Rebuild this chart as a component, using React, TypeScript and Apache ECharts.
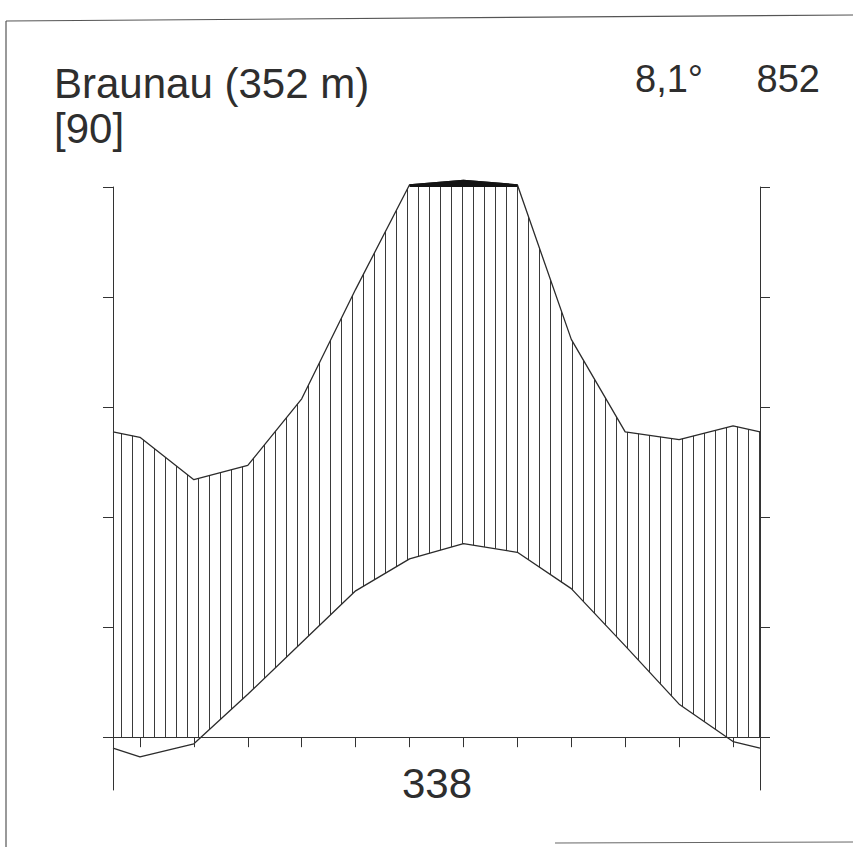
import React, { useEffect, useRef } from 'react';
import * as echarts from 'echarts';

// Month positions (1 = January ... 12 = December)
const monthPositions = [1, 2, 3, 4, 5, 6, 7, 8, 9, 10, 11, 12];
// Mean monthly temperature (°C)
const temperature = [-1.8, -0.6, 3.9, 8.6, 13.3, 16.2, 17.6, 16.8, 13.5, 8.3, 3.0, -0.4];
// Mean monthly precipitation (mm)
const precipitation = [54.5, 46.8, 49.4, 61.5, 81.4, 104, 112, 104, 72.3, 55.5, 54.1, 56.6];
// Values read at the diagram edges (mid-December / mid-January junction)
const edgeTemperature = -1.0;
const edgePrecipitation = 55.5;
// Axis tick values
const temperatureTicks = [0, 10, 20, 30, 40, 50];
const precipitationTicks = [0, 20, 40, 60, 80, 100];

const stationTitle = 'Braunau (352 m)';
const yearsLabel = '[90]';
const meanTemperatureLabel = '8,1°';
const annualPrecipitationLabel = '852';
const bottomLabel = '338';

const FONT = '"Liberation Sans", Arial, Helvetica, sans-serif';
const INK = '#2e2e2e';

// precipitation above 100 mm is drawn at 1/10 scale (Walter-Lieth convention)
const compress = (p: number) => (p <= 100 ? p : 100 + (p - 100) / 10);

export default function App() {
  const ref = useRef<HTMLDivElement>(null);

  useEffect(() => {
    if (!ref.current) return;
    const chart = echarts.init(ref.current, undefined, { renderer: 'svg' });

    const tempData: number[][] = [[0.5, edgeTemperature]];
    monthPositions.forEach((m, i) => tempData.push([m, temperature[i]]));
    tempData.push([12.5, edgeTemperature]);

    const precData: number[][] = [[0.5, compress(edgePrecipitation)]];
    monthPositions.forEach((m, i) => precData.push([m, compress(precipitation[i])]));
    precData.push([12.5, compress(edgePrecipitation)]);

    // only the months above 100 mm get the black (compressed) band
    const excessData = precData.map(([x, v]) => [x, v > 100 ? v : '-']);

    const hatchSvg =
      '<svg xmlns="http://www.w3.org/2000/svg" width="11" height="10">' +
      '<rect x="0" y="0" width="1" height="10" fill="#3a3a3a"/></svg>';
    const hatchPattern: any = {
      image: 'data:image/svg+xml;charset=utf-8,' + encodeURIComponent(hatchSvg),
      repeat: 'repeat',
      imageWidth: 11,
      imageHeight: 10,
      x: 3,
    };

    const axisLine = { show: true, lineStyle: { color: '#333', width: 1 } };

    chart.setOption({
      animation: false,
      backgroundColor: '#fff',
      grid: { left: 113, top: 187, width: 647, height: 603, containLabel: false },
      xAxis: {
        type: 'value',
        min: 0.5,
        max: 12.5,
        z: 10,
        axisLine: { ...axisLine, onZero: true, onZeroAxisIndex: 0 },
        axisTick: { show: true, length: 10, customValues: monthPositions, lineStyle: { color: '#333' } },
        axisLabel: { show: false },
        splitLine: { show: false },
      },
      yAxis: [
        {
          type: 'value',
          position: 'left',
          min: -4.8,
          max: 50,
          z: 10,
          axisLine: { ...axisLine, onZero: false },
          axisTick: { show: true, length: 10, customValues: temperatureTicks, lineStyle: { color: '#333' } },
          axisLabel: { show: false },
          splitLine: { show: false },
        },
        {
          type: 'value',
          position: 'right',
          min: -9.6,
          max: 100,
          z: 10,
          axisLine: { ...axisLine, onZero: false },
          axisTick: { show: true, length: 10, customValues: precipitationTicks, lineStyle: { color: '#333' } },
          axisLabel: { show: false },
          splitLine: { show: false },
        },
      ],
      series: [
        {
          name: 'Niederschlag',
          type: 'line',
          yAxisIndex: 1,
          data: precData,
          showSymbol: false,
          clip: false,
          z: 2,
          lineStyle: { color: '#2b2b2b', width: 1.3 },
          areaStyle: { color: hatchPattern, opacity: 1 },
        },
        {
          name: 'Niederschlag > 100',
          type: 'line',
          yAxisIndex: 1,
          data: excessData,
          showSymbol: false,
          clip: false,
          connectNulls: false,
          z: 3,
          lineStyle: { color: '#141414', width: 1.2 },
          areaStyle: { color: '#141414', origin: 'end', opacity: 1 },
        },
        {
          name: 'Temperatur',
          type: 'line',
          yAxisIndex: 0,
          data: tempData,
          showSymbol: false,
          clip: false,
          z: 4,
          lineStyle: { color: '#2b2b2b', width: 1.3 },
          areaStyle: { color: '#ffffff', opacity: 1 },
        },
      ],
      graphic: [
        { type: 'line', shape: { x1: 6, y1: 21, x2: 853, y2: 15 }, style: { stroke: '#555', lineWidth: 1.2 } },
        { type: 'line', shape: { x1: 6, y1: 21, x2: 6, y2: 847 }, style: { stroke: '#555', lineWidth: 1.2 } },
        { type: 'line', shape: { x1: 555, y1: 843, x2: 853, y2: 842 }, style: { stroke: '#666', lineWidth: 1 } },
        {
          type: 'text',
          left: 54,
          top: 62,
          style: { text: stationTitle, font: `42px ${FONT}`, fill: INK },
        },
        {
          type: 'text',
          left: 54,
          top: 107,
          style: { text: yearsLabel, font: `42px ${FONT}`, fill: INK },
        },
        {
          type: 'text',
          left: 635,
          top: 60,
          style: { text: meanTemperatureLabel, font: `38px ${FONT}`, fill: INK },
        },
        {
          type: 'text',
          right: 33,
          top: 60,
          style: { text: annualPrecipitationLabel, font: `38px ${FONT}`, fill: INK },
        },
        {
          type: 'text',
          x: 437,
          y: 762,
          style: { text: bottomLabel, font: `42px ${FONT}`, fill: INK, textAlign: 'center', textVerticalAlign: 'top' },
        },
      ],
    });

    return () => chart.dispose();
  }, []);

  return (
    <div
      ref={ref}
      style={{ position: 'absolute', left: 0, top: 0, width: 853, height: 847, background: '#fff' }}
    />
  );
}
